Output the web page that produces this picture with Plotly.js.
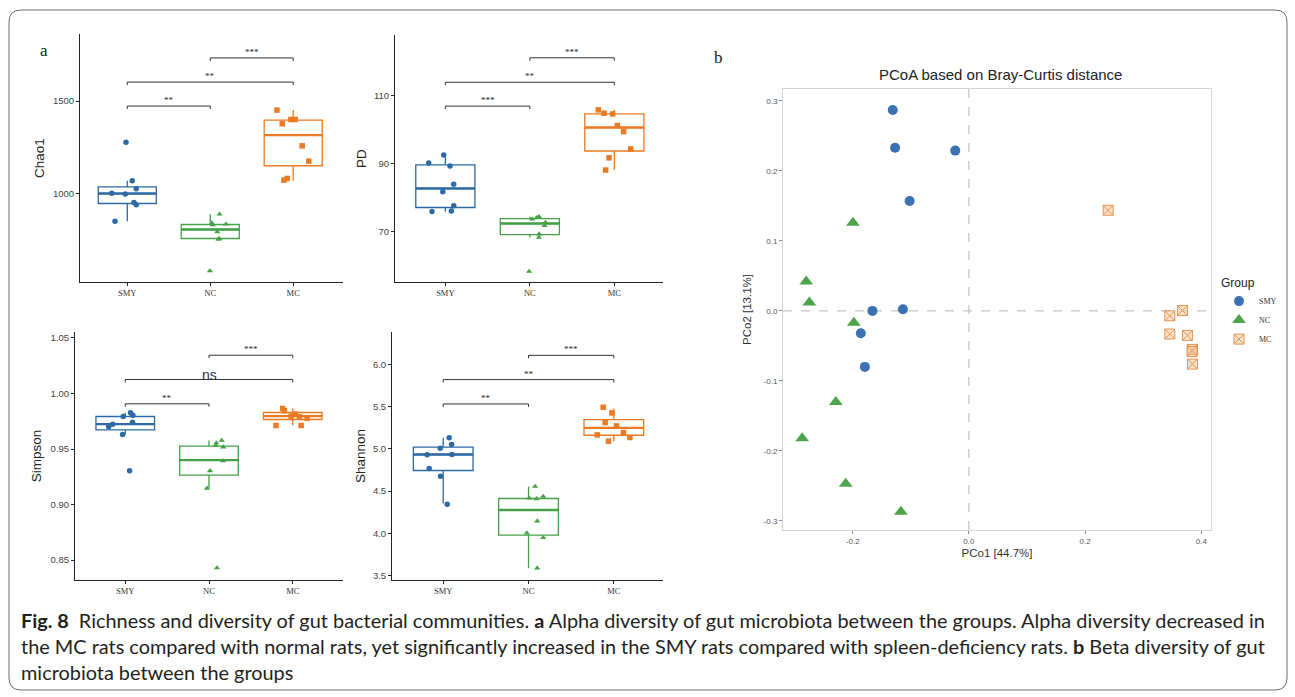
<!DOCTYPE html>
<html><head><meta charset="utf-8">
<script src="https://cdn.plot.ly/plotly-3.0.1.min.js"></script>
<style>html,body{margin:0;padding:0;background:#fff;}#chart{width:1295px;height:697px;}</style>
</head><body><div id="chart"></div>
<script>
// ---------- DATA ----------
const groups = ['SMY', 'NC', 'MC'];

// Chao1 (values and horizontal jitter offsets)
const chao1SMY = [1277, 1067, 1024, 1000, 996, 949, 937, 848];
const chao1SMYdx = [-0.016, 0.06, 0.108, -0.188, -0.024, 0.08, 0.108, -0.148];
const chao1NC = [886, 838, 832, 828, 790, 754, 750, 578];
const chao1NCdx = [0.112, 0.02, 0.19, 0.03, 0.084, 0.108, 0.1, -0.004];
const chao1MC = [1451, 1377, 1400, 1400, 1257, 1174, 1071, 1080];
const chao1MCdx = [-0.196, -0.132, -0.028, 0.024, 0.108, 0.188, -0.112, -0.072];
const chao1Q1 = [944, 754, 1149];
const chao1Med = [998, 803, 1315];
const chao1Q3 = [1034, 830, 1397];
const chao1Lo = [848, 750, 1067];
const chao1Hi = [1067, 886, 1451];
const chao1SigY = [1473, 1603, 1734];
const chao1SigLab = ['**', '**', '***'];

// PD
const pdSMY = [92.4, 90.1, 89.2, 83.8, 81.6, 77.5, 75.8, 76.0];
const pdSMYdx = [-0.02, -0.197, 0.055, 0.099, -0.03, 0.099, -0.158, 0.071];
const pdNC = [73.6, 74.3, 72.6, 71.7, 69.2, 68.2, 74.0, 58.2];
const pdNCdx = [0.028, 0.107, 0.185, 0.174, 0.11, 0.107, 0.08, -0.008];
const pdMC = [105.7, 104.7, 104.5, 101.1, 99.3, 94.2, 91.6, 88.0];
const pdMCdx = [-0.19, -0.122, -0.02, 0.035, 0.11, 0.193, -0.063, -0.103];
const pdQ1 = [77.0, 69.0, 93.6];
const pdMed = [82.6, 72.3, 100.5];
const pdQ3 = [89.5, 73.7, 104.5];
const pdLo = [75.8, 68.2, 88.0];
const pdHi = [92.4, 74.3, 105.7];
const pdSigY = [106.8, 113.8, 121.0];
const pdSigLab = ['***', '**', '***'];

// Simpson
const simSMY = [0.9793, 0.9826, 0.9805, 0.9742, 0.9724, 0.9700, 0.9631, 0.9304];
const simSMYdx = [-0.024, 0.063, 0.091, 0.087, -0.15, -0.198, -0.032, 0.052];
const simNC = [0.9577, 0.9553, 0.9530, 0.9517, 0.9394, 0.9304, 0.9146, 0.8429];
const simNCdx = [0.151, 0.087, 0.08, 0.17, 0.167, 0.012, -0.024, 0.095];
const simMC = [0.9865, 0.9845, 0.9814, 0.9796, 0.9790, 0.9778, 0.9712, 0.9712];
const simMCdx = [-0.12, -0.1, 0.03, -0.02, 0.08, 0.17, -0.2, 0.1];
const simQ1 = [0.9673, 0.9265, 0.9766];
const simMed = [0.9724, 0.9400, 0.9796];
const simQ3 = [0.9793, 0.9526, 0.9829];
const simLo = [0.9631, 0.9146, 0.9712];
const simHi = [0.9826, 0.9577, 0.9865];
const simSigY = [0.9907, 1.0126, 1.0345];
const simSigLab = ['**', 'ns', '***'];

// Shannon
const shaSMY = [5.13, 5.051, 5.008, 4.93, 4.933, 4.768, 4.677, 4.346];
const shaSMYdx = [0.07, 0.098, -0.035, -0.188, 0.102, -0.164, -0.031, 0.047];
const shaNC = [4.555, 4.417, 4.409, 4.437, 4.146, 4.004, 3.949, 3.59];
const shaNCdx = [0.078, 0.008, 0.094, 0.172, 0.102, -0.02, 0.172, 0.102];
const shaMC = [5.492, 5.425, 5.311, 5.272, 5.165, 5.193, 5.134, 5.091];
const shaMCdx = [-0.125, -0.023, -0.102, 0.031, -0.195, 0.113, 0.188, -0.063];
const shaQ1 = [4.744, 3.98, 5.161];
const shaMed = [4.933, 4.276, 5.248];
const shaQ3 = [5.02, 4.413, 5.346];
const shaLo = [4.354, 3.587, 5.091];
const shaHi = [5.13, 4.555, 5.476];
const shaSigY = [5.531, 5.819, 6.106];
const shaSigLab = ['**', '**', '***'];

const sigPairs = [[0, 1], [0, 2], [1, 2]];

// PCoA
const pcoaSMYx = [-0.131, -0.127, -0.0235, -0.102, -0.166, -0.1135, -0.186, -0.179];
const pcoaSMYy = [0.287, 0.233, 0.229, 0.157, 0.0, 0.0024, -0.032, -0.080];
const pcoaNCx = [-0.1995, -0.280, -0.2746, -0.198, -0.229, -0.287, -0.212, -0.117];
const pcoaNCy = [0.126, 0.042, 0.012, -0.017, -0.130, -0.182, -0.247, -0.287];
const pcoaMCx = [0.2396, 0.3675, 0.3457, 0.3457, 0.376, 0.3847, 0.384, 0.3847];
const pcoaMCy = [0.1438, 0.0005, -0.007, -0.033, -0.035, -0.055, -0.058, -0.076];
const pcoaXticks = [-0.2, 0.0, 0.2, 0.4];
const pcoaXtickText = ['-0.2', '0.0', '0.2', '0.4'];
const pcoaYticks = [-0.3, -0.2, -0.1, 0.0, 0.1, 0.2, 0.3];
const pcoaYtickText = ['-0.3', '-0.2', '-0.1', '0.0', '0.1', '0.2', '0.3'];

const captionLines = [
  '<b>Fig. 8</b>\u2002Richness and diversity of gut bacterial communities. <b>a</b> Alpha diversity of gut microbiota between the groups. Alpha diversity decreased in',
  'the MC rats compared with normal rats, yet significantly increased in the SMY rats compared with spleen-deficiency rats. <b>b</b> Beta diversity of gut',
  'microbiota between the groups'
];

// ---------- LAYOUT HELPERS ----------
const W = 1295, H = 697;
const fx = p => p / W;
const fy = p => 1 - p / H;
const boxColors = ['#2D69A5', '#45A148', '#EC7A22'];
const ptSymbols = ['circle', 'triangle-up', 'square'];
const SANS = 'Liberation Sans, Arial, sans-serif';
const SERIF = 'Liberation Serif, Times New Roman, serif';
const BOXW = 0.7;

const traces = [];
const shapes = [];
const annotations = [];
const layout = {
  width: W, height: H,
  margin: {l: 0, r: 0, t: 0, b: 0},
  paper_bgcolor: '#fff', plot_bgcolor: 'rgba(0,0,0,0)',
  showlegend: true,
  font: {family: SANS, color: '#333'}
};

function boxPanel(n, cfg) {
  const xa = 'x' + (n === 1 ? '' : n), ya = 'y' + (n === 1 ? '' : n);
  const xk = 'xaxis' + (n === 1 ? '' : n), yk = 'yaxis' + (n === 1 ? '' : n);
  for (let g = 0; g < 3; g++) {
    traces.push({
      type: 'box', xaxis: xa, yaxis: ya, x: [g],
      q1: [cfg.q1[g]], median: [cfg.med[g]], q3: [cfg.q3[g]],
      lowerfence: [cfg.lo[g]], upperfence: [cfg.hi[g]],
      width: BOXW, boxpoints: false, whiskerwidth: 0,
      line: {color: boxColors[g], width: 1.3}, fillcolor: 'rgba(255,255,255,0)',
      showlegend: false, hoverinfo: 'skip'
    });
    // thicker median stroke, as drawn by ggplot
    traces.push({
      type: 'scatter', mode: 'lines', xaxis: xa, yaxis: ya,
      x: [g - BOXW / 2, g + BOXW / 2], y: [cfg.med[g], cfg.med[g]],
      line: {color: boxColors[g], width: 2.4}, showlegend: false, hoverinfo: 'skip'
    });
    traces.push({
      type: 'scatter', mode: 'markers', xaxis: xa, yaxis: ya,
      x: cfg.dx[g].map(d => g + d), y: cfg.pts[g],
      marker: {symbol: ptSymbols[g], size: 5.5, color: boxColors[g]},
      showlegend: false, hoverinfo: 'skip'
    });
  }
  const yr = cfg.yr, tip = (yr[1] - yr[0]) * 0.012;
  sigPairs.forEach((p, i) => {
    const y = cfg.sigY[i];
    shapes.push({type: 'path', xref: xa, yref: ya,
      path: `M ${p[0]},${y - tip} L ${p[0]},${y} L ${p[1]},${y} L ${p[1]},${y - tip}`,
      line: {color: '#333', width: 1}});
    const ns = cfg.sigLab[i] === 'ns';
    annotations.push({xref: xa, yref: ya, x: (p[0] + p[1]) / 2, y: y,
      text: cfg.sigLab[i], showarrow: false,
      yanchor: ns ? 'middle' : 'bottom', yshift: ns ? 5 : -1,
      font: ns ? {family: SANS, size: 14, color: '#333'} : {family: SERIF, size: 9, color: '#222'}});
  });
  layout[xk] = {domain: [fx(cfg.px[0]), fx(cfg.px[1])], anchor: ya, range: cfg.xr,
    tickvals: [0, 1, 2], ticktext: groups, showline: true, linecolor: '#222', linewidth: 1,
    ticks: 'outside', ticklen: 3, tickcolor: '#222', showgrid: false, zeroline: false,
    tickfont: {family: SERIF, size: 8.5, color: '#333'}};
  layout[yk] = {domain: [fy(cfg.py[1]), fy(cfg.py[0])], anchor: xa, range: cfg.yr,
    tickvals: cfg.tv, ticktext: cfg.tt, showline: true, linecolor: '#222', linewidth: 1,
    ticks: 'outside', ticklen: 3, tickcolor: '#222', showgrid: false, zeroline: false,
    tickfont: {family: SANS, size: 9.5, color: '#444'},
    title: {text: cfg.title, font: {family: SANS, size: 13.5, color: '#222'}, standoff: cfg.standoff}};
}

boxPanel(1, {pts: [chao1SMY, chao1NC, chao1MC], dx: [chao1SMYdx, chao1NCdx, chao1MCdx],
  q1: chao1Q1, med: chao1Med, q3: chao1Q3, lo: chao1Lo, hi: chao1Hi,
  sigY: chao1SigY, sigLab: chao1SigLab, px: [80, 343], py: [34, 282],
  xr: [-0.57, 2.6], yr: [518, 1864], tv: [1000, 1500], tt: ['1000', '1500'], title: 'Chao1', standoff: 5});
boxPanel(2, {pts: [pdSMY, pdNC, pdMC], dx: [pdSMYdx, pdNCdx, pdMCdx],
  q1: pdQ1, med: pdMed, q3: pdQ3, lo: pdLo, hi: pdHi,
  sigY: pdSigY, sigLab: pdSigLab, px: [395, 663], py: [35, 282],
  xr: [-0.596, 2.576], yr: [55.1, 127.7], tv: [70, 90, 110], tt: ['70', '90', '110'], title: 'PD', standoff: 4});
boxPanel(3, {pts: [simSMY, simNC, simMC], dx: [simSMYdx, simNCdx, simMCdx],
  q1: simQ1, med: simMed, q3: simQ3, lo: simLo, hi: simHi,
  sigY: simSigY, sigLab: simSigLab, px: [75, 343], py: [332, 580],
  xr: [-0.6, 2.6], yr: [0.832, 1.0554], tv: [0.85, 0.90, 0.95, 1.00, 1.05],
  tt: ['0.85', '0.90', '0.95', '1.00', '1.05'], title: 'Simpson', standoff: 5});
boxPanel(4, {pts: [shaSMY, shaNC, shaMC], dx: [shaSMYdx, shaNCdx, shaMCdx],
  q1: shaQ1, med: shaMed, q3: shaQ3, lo: shaLo, hi: shaHi,
  sigY: shaSigY, sigLab: shaSigLab, px: [392, 663], py: [332, 580],
  xr: [-0.6, 2.576], yr: [3.449, 6.382], tv: [3.5, 4.0, 4.5, 5.0, 5.5, 6.0],
  tt: ['3.5', '4.0', '4.5', '5.0', '5.5', '6.0'], title: 'Shannon', standoff: 4});

// PCoA panel
traces.push({type: 'scatter', mode: 'markers', xaxis: 'x5', yaxis: 'y5', name: 'SMY',
  x: pcoaSMYx, y: pcoaSMYy, marker: {symbol: 'circle', size: 10, color: '#3B70B2'}, hoverinfo: 'skip'});
traces.push({type: 'scatter', mode: 'markers', xaxis: 'x5', yaxis: 'y5', name: 'NC',
  x: pcoaNCx, y: pcoaNCy, marker: {symbol: 'triangle-up', size: 12, color: '#4CA54A'}, hoverinfo: 'skip'});
traces.push({type: 'scatter', mode: 'markers', xaxis: 'x5', yaxis: 'y5', name: 'MC',
  x: pcoaMCx, y: pcoaMCy, marker: {symbol: 'square-x', size: 10, color: 'rgba(246,205,165,0.55)',
  line: {color: '#E3924E', width: 1}}, hoverinfo: 'skip'});

layout.xaxis5 = {domain: [fx(783), fx(1211)], anchor: 'y5', range: [-0.3199, 0.4166],
  tickvals: pcoaXticks, ticktext: pcoaXtickText, showline: true, mirror: true,
  linecolor: '#d3d3d3', linewidth: 1, ticks: 'outside', ticklen: 3, tickcolor: '#888',
  showgrid: false, zeroline: false, tickfont: {family: SANS, size: 8, color: '#555'},
  title: {text: 'PCo1 [44.7%]', font: {family: SANS, size: 11.5, color: '#333'}, standoff: 4}};
layout.yaxis5 = {domain: [fy(530), fy(89)], anchor: 'x5', range: [-0.313, 0.317],
  tickvals: pcoaYticks, ticktext: pcoaYtickText, showline: true, mirror: true,
  linecolor: '#d3d3d3', linewidth: 1, ticks: 'outside', ticklen: 3, tickcolor: '#888',
  showgrid: false, zeroline: false, tickfont: {family: SANS, size: 8, color: '#555'},
  title: {text: 'PCo2 [13.1%]', font: {family: SANS, size: 11.5, color: '#333'}, standoff: 9}};

shapes.push({type: 'line', xref: 'x5 domain', yref: 'y5', x0: 0, x1: 1, y0: 0, y1: 0,
  line: {color: '#b5b5b5', width: 1, dash: 'dash'}, layer: 'below'});
shapes.push({type: 'line', xref: 'x5', yref: 'y5 domain', x0: 0, x1: 0, y0: 0, y1: 1,
  line: {color: '#b5b5b5', width: 1, dash: 'dash'}, layer: 'below'});

annotations.push({xref: 'paper', yref: 'paper', x: fx(1000), y: fy(74), text: 'PCoA based on Bray-Curtis distance',
  showarrow: false, xanchor: 'center', yanchor: 'middle', font: {family: SANS, size: 15, color: '#222'}});

layout.legend = {x: fx(1219), y: fy(271), xanchor: 'left', yanchor: 'top',
  bgcolor: 'rgba(0,0,0,0)', font: {family: SERIF, size: 8, color: '#333'},
  title: {text: 'Group', font: {family: SANS, size: 12, color: '#222'}},
  tracegroupgap: 2, itemwidth: 30};

// panel letters
annotations.push({xref: 'paper', yref: 'paper', x: fx(44), y: fy(50), text: 'a', showarrow: false,
  xanchor: 'center', yanchor: 'middle', font: {family: SERIF, size: 17, color: '#222'}});
annotations.push({xref: 'paper', yref: 'paper', x: fx(718), y: fy(57), text: 'b', showarrow: false,
  xanchor: 'center', yanchor: 'middle', font: {family: SERIF, size: 17, color: '#222'}});

// caption
const capY = [620, 646, 672];
captionLines.forEach((t, i) => annotations.push({xref: 'paper', yref: 'paper', x: fx(19), y: fy(capY[i]),
  text: t, showarrow: false, xanchor: 'left', yanchor: 'middle', align: 'left',
  font: {family: 'Lato, Open Sans, sans-serif', size: 19.9, color: '#231f20'}}));

// rounded frame
(function () {
  const x0 = fx(9), x1 = fx(1287), yt = fy(10), yb = fy(690), rx = 12 / W, ry = 12 / H;
  shapes.push({type: 'path', xref: 'paper', yref: 'paper', layer: 'below',
    path: `M ${x0 + rx},${yt} L ${x1 - rx},${yt} Q ${x1},${yt} ${x1},${yt - ry} L ${x1},${yb + ry} Q ${x1},${yb} ${x1 - rx},${yb} L ${x0 + rx},${yb} Q ${x0},${yb} ${x0},${yb + ry} L ${x0},${yt - ry} Q ${x0},${yt} ${x0 + rx},${yt} Z`,
    line: {color: '#6d6d6d', width: 1}});
})();

layout.shapes = shapes;
layout.annotations = annotations;

Plotly.newPlot('chart', traces, layout, {displayModeBar: false, staticPlot: true});
</script></body></html>
